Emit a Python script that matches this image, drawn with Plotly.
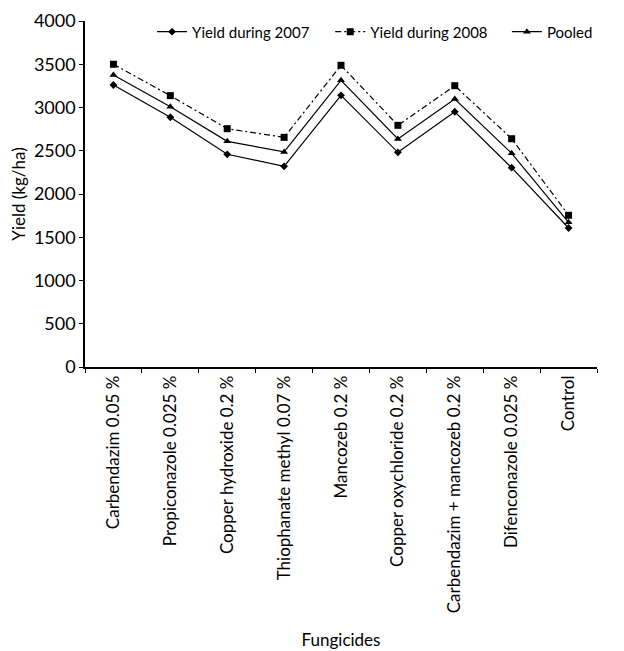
import plotly.graph_objects as go

categories = ["Carbendazim 0.05 %", "Propiconazole 0.025 %", "Copper hydroxide 0.2 %",
              "Thiophanate methyl 0.07 %", "Mancozeb 0.2 %", "Copper oxychloride 0.2 %",
              "Carbendazim + mancozeb 0.2 %", "Difenconazole 0.025 %", "Control"]
yield_2007 = [3260, 2887, 2459, 2320, 3141, 2482, 2951, 2304, 1607]
yield_2008 = [3500, 3137, 2755, 2655, 3488, 2794, 3252, 2639, 1754]
pooled = [3376, 3009, 2609, 2486, 3314, 2636, 3098, 2470, 1673]
y_ticks = [0, 500, 1000, 1500, 2000, 2500, 3000, 3500, 4000]

FONT = "Lato"
fig = go.Figure()
fig.add_trace(go.Scatter(x=categories, y=yield_2007, name="Yield during 2007", mode="lines+markers",
                         line=dict(color="black", width=1.2),
                         marker=dict(symbol="diamond", size=6, color="black"), legend="legend"))
fig.add_trace(go.Scatter(x=categories, y=yield_2008, name="Yield during 2008", mode="lines+markers",
                         line=dict(color="black", width=1.2, dash="6px,3px,2px,3px"),
                         marker=dict(symbol="square", size=7, color="black"), legend="legend2"))
fig.add_trace(go.Scatter(x=categories, y=pooled, name="Pooled", mode="lines+markers",
                         line=dict(color="black", width=1.2),
                         marker=dict(symbol="triangle-up", size=7, color="black"), legend="legend3"))

leg = dict(y=1.016, xanchor="left", yanchor="top", font=dict(size=15),
           bgcolor="rgba(0,0,0,0)", orientation="h")
fig.update_layout(
    width=616, height=643,
    margin=dict(l=77, r=27, t=13, b=284, autoexpand=False),
    paper_bgcolor="white", plot_bgcolor="white",
    font=dict(family=FONT, size=17, color="black"),
    showlegend=True,
    legend=dict(x=0.131, **leg),
    legend2=dict(x=0.479, **leg),
    legend3=dict(x=0.824, **leg),
    xaxis=dict(
        type="category", showline=True, linecolor="black", linewidth=1.5,
        ticks="outside", tickson="boundaries", ticklen=4, tickcolor="black",
        tickangle=-90, showgrid=False, zeroline=False, tickfont=dict(size=17),
        title=dict(text="Fungicides", font=dict(size=17), standoff=22),
        range=[-0.5, 8.5], automargin=False,
    ),
    yaxis=dict(
        range=[0, 4000], tickvals=y_ticks, showline=True, linecolor="black", linewidth=1.5,
        ticks="outside", ticklen=4, tickcolor="black", showgrid=False, zeroline=False,
        tickfont=dict(size=18), automargin=False,
        title=dict(text="Yield (kg/ha)", font=dict(size=17), standoff=4),
    ),
)
fig.write_html("out.html")
